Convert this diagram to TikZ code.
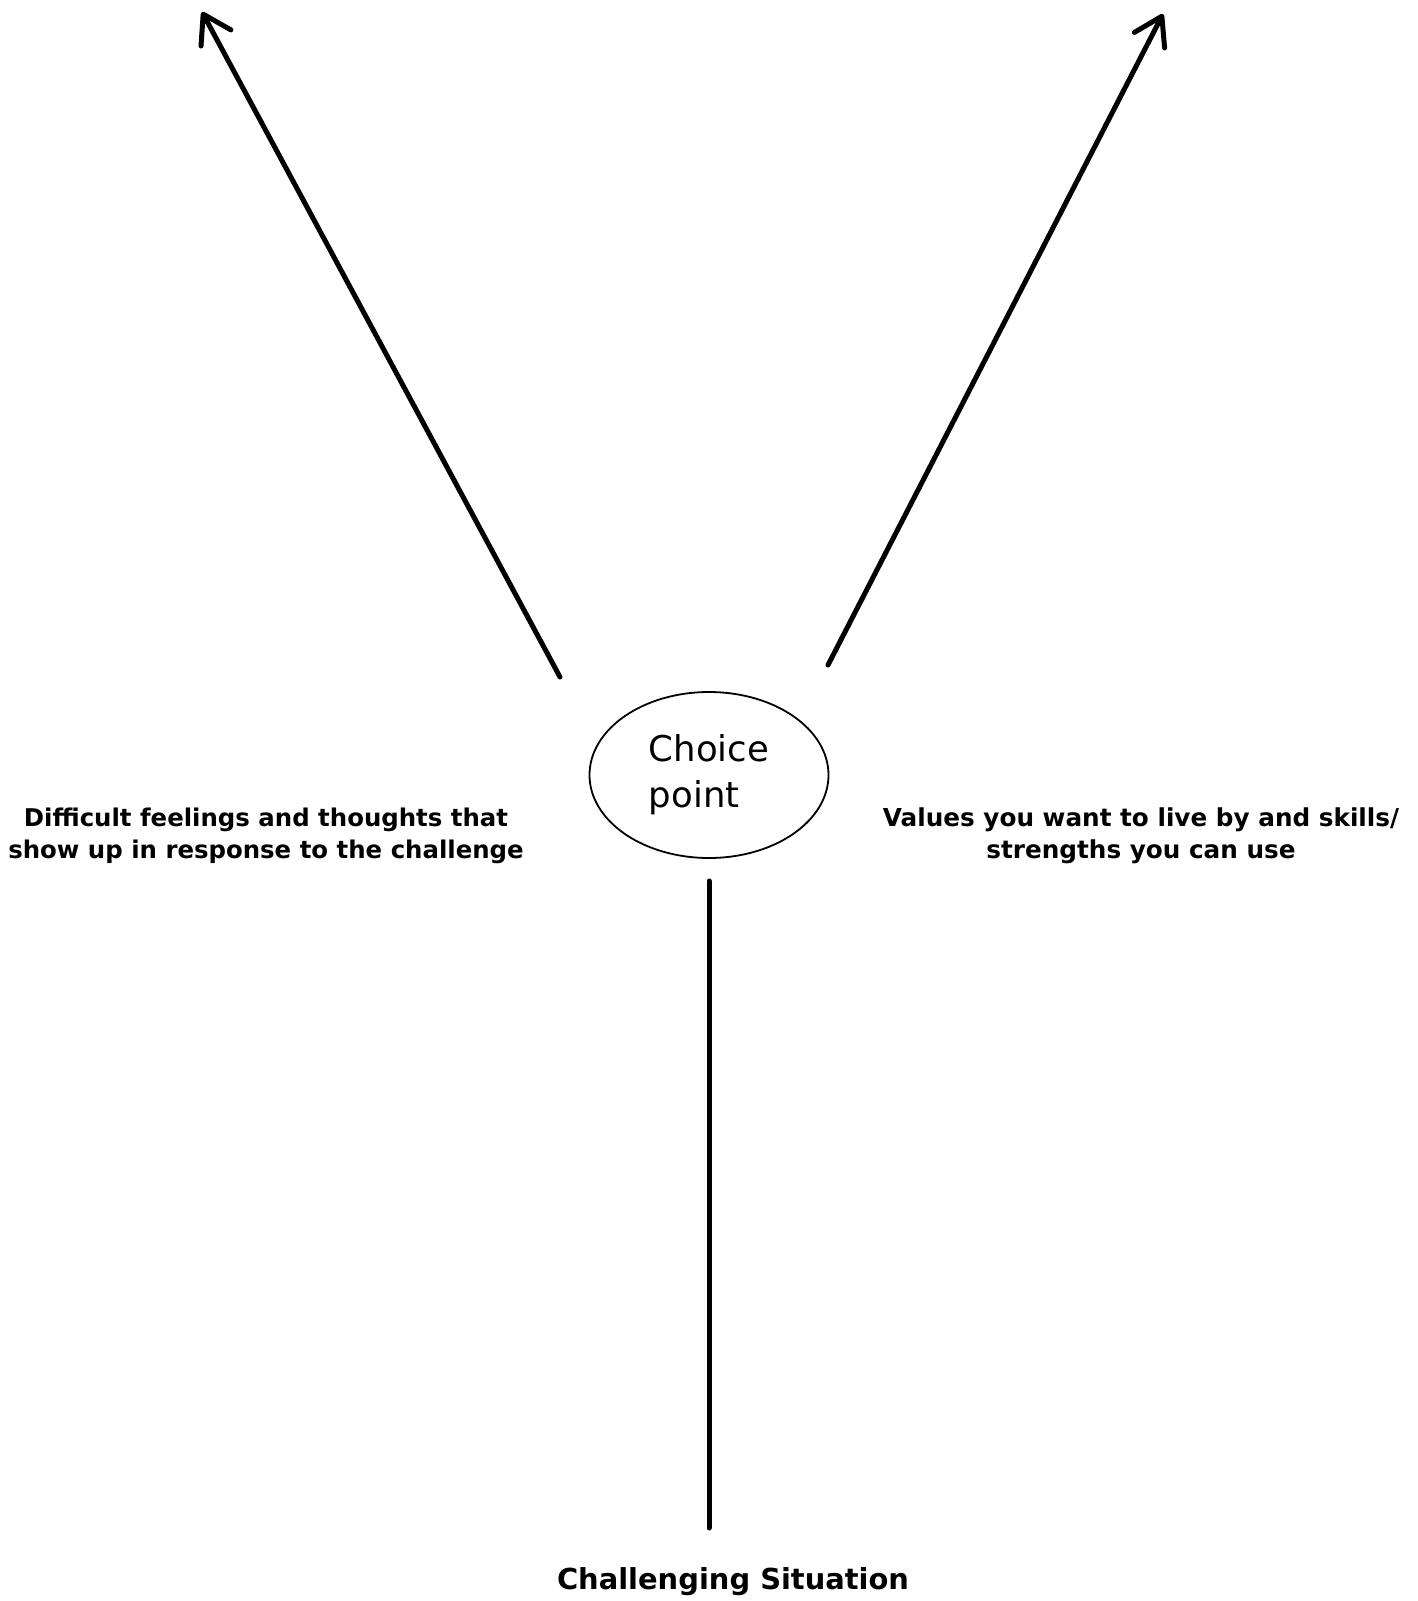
\documentclass[tikz,border=0pt]{standalone}
\usepackage{fontspec}
\setmainfont{DejaVu Sans}
\usetikzlibrary{arrows.meta,shapes,positioning}

\begin{document}
\begin{tikzpicture}[x=1pt, y=-1pt,
		>={Straight Barb[length=27pt,width=34pt,round]},
		branch/.style={line width=5pt, line cap=round},
		label/.style={font=\fontsize{24.4}{32}\selectfont\bfseries, align=center}]
		\useasboundingbox (0,0) rectangle (1418,1601);
		% Define nodes
		\node[ellipse, draw, line width=1.8pt, minimum width=239pt, minimum height=166pt,
			inner sep=0pt, align=left, font=\fontsize{35.5}{46}\selectfont] (cp) at (709,775) {Choice\\point};
		\node[label] (diff) at (266,836) {Difficult feelings and thoughts that\\show up in response to the challenge};
		\node[label, font=\fontsize{24.7}{32}\selectfont\bfseries] (val) at (1141,836) {Values you want to live by and skills/\\strengths you can use};
		\node[label, font=\fontsize{28.9}{34}\selectfont\bfseries] (sit) at (733,1582) {Challenging Situation};
		\coordinate (lstart) at (560,677);
		\coordinate (ltip) at (202,12);
		\coordinate (rstart) at (828,665);
		\coordinate (rtip) at (1163,14);
		\coordinate (stop) at (709,881);
		\coordinate (sbase) at (709,1528);
		
		% Draw arrows
		\draw[branch, ->] (lstart) -- (ltip);
		\draw[branch, ->] (rstart) -- (rtip);
		\draw[branch] (sbase) -- (stop);
	\end{tikzpicture}
\end{document}
